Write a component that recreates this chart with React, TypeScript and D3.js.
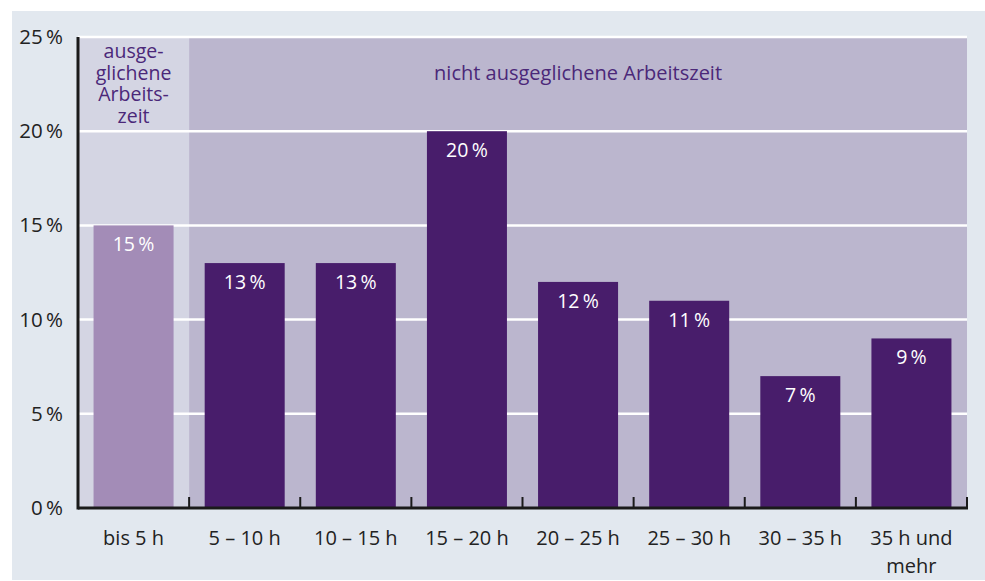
import React from "react";
import * as d3 from "d3";

const categories = ["bis 5 h", "5 – 10 h", "10 – 15 h", "15 – 20 h", "20 – 25 h", "25 – 30 h", "30 – 35 h", "35 h und|mehr"];
const values = [15, 13, 13, 20, 12, 11, 7, 9];
const yTicks = [0, 5, 10, 15, 20, 25];
const balancedLines = ["ausge-", "glichene", "Arbeits-", "zeit"];
const unbalancedLabel = "nicht ausgeglichene Arbeitszeit";

const W = 985, H = 581;
const M = { left: 78, right: 967, top: 37, bottom: 508 };
const FONT = "'Open Sans', Lato, sans-serif";
const TS = "\u2009";

export default function App() {
  const x = d3.scaleBand<string>().domain(categories).range([M.left, M.right]).paddingInner(0.28).paddingOuter(0.14);
  const y = d3.scaleLinear().domain([0, 25]).range([M.bottom, M.top]);
  const step = x.step();
  const firstEnd = M.left + step;
  const bounds = d3.range(1, categories.length + 1).map((i) => M.left + i * step);
  const annX = (M.left + firstEnd) / 2;

  return (
    <svg width={W} height={H} style={{ position: "absolute", left: 0, top: 0 }} fontFamily={FONT}>
      <rect x={12} y={11} width={W - 12} height={H - 12} fill="#e2e8ef" />
      <rect x={M.left} y={M.top} width={firstEnd - M.left} height={M.bottom - M.top} fill="#d4d5e3" />
      <rect x={firstEnd} y={M.top} width={M.right - firstEnd} height={M.bottom - M.top} fill="#bbb6ce" />
      {yTicks.filter((t) => t > 0).map((t) => (
        <line key={t} x1={M.left} x2={M.right} y1={y(t)} y2={y(t)} stroke="#ffffff" strokeWidth={2.5} />
      ))}
      {values.map((v, i) => (
        <g key={i}>
          <rect x={x(categories[i])} y={y(v)} width={x.bandwidth()} height={M.bottom - y(v)} fill={i === 0 ? "#a38cb7" : "#481d6b"} />
          <text x={(x(categories[i]) as number) + x.bandwidth() / 2} y={y(v) + 26} textAnchor="middle" fill="#ffffff" fontSize={19.5}>
            {v + TS + "%"}
          </text>
        </g>
      ))}
      <text x={annX} y={58} textAnchor="middle" fill="#4b2879" fontSize={19.5}>
        {balancedLines.map((l, i) => (
          <tspan key={l} x={annX} dy={i === 0 ? 0 : 21.7}>
            {l}
          </tspan>
        ))}
      </text>
      <text x={(firstEnd + M.right) / 2} y={80} textAnchor="middle" fill="#4b2879" fontSize={20}>
        {unbalancedLabel}
      </text>
      {yTicks.map((t) => (
        <text key={t} x={63} y={y(t) + 7} textAnchor="end" fill="#222222" fontSize={20.5}>
          {t + TS + "%"}
        </text>
      ))}
      {bounds.map((b, i) => (
        <line key={i} x1={b} x2={b} y1={M.bottom - 11} y2={M.bottom} stroke="#1a1a1a" strokeWidth={2} />
      ))}
      <line x1={M.left} x2={M.left} y1={M.top} y2={M.bottom + 1.5} stroke="#1a1a1a" strokeWidth={3} />
      <line x1={M.left} x2={M.right + 1} y1={M.bottom} y2={M.bottom} stroke="#1a1a1a" strokeWidth={3} />
      {categories.map((c) => {
        const lines = c.split("|");
        const cx = (x(c) as number) + x.bandwidth() / 2;
        return (
          <text key={c} x={cx} y={545} textAnchor="middle" fill="#222222" fontSize={20}>
            {lines.map((l, j) => (
              <tspan key={j} x={cx} dy={j === 0 ? 0 : 28}>
                {l}
              </tspan>
            ))}
          </text>
        );
      })}
    </svg>
  );
}
